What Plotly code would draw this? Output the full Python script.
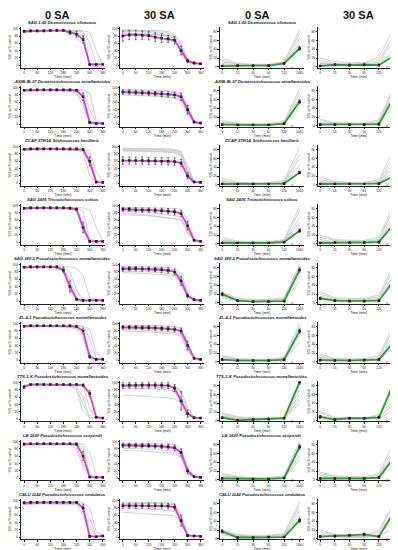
import plotly.graph_objects as go

# ---------------- data ----------------
T_DES = [0, 30, 60, 90, 120, 150, 180, 210, 240, 270, 300, 330, 360]
DES_TICKS = [0, 60, 120, 180, 240, 300, 360]
REC_X = [0, 1, 2, 3, 4, 5]
REC_LABELS = ["0", "15", "30", "60", "120", "1440"]
COL_HEADERS = ["0 SA", "30 SA", "0 SA", "30 SA"]
STRAINS = [
    "SAG 1.82 Desmococcus olivaceus",
    "ASIB-IB-37 Deuterostichococcus tetrallantoides",
    "CCAP 379/1A Stichococcus bacillaris",
    "SAG 2406 Tritostichococcus solitus",
    "SAG 380-1 Pseudostichococcus monallantoides",
    "ZL-4-1 Pseudostichococcus monallantoides",
    "TTS-1-K Pseudostichococcus monallantoides",
    "LB 1820 Pseudostichococcus seepordii",
    "CALU 1142 Pseudostichococcus undulatus",
]

DES0_MEAN = [
    [93, 94, 94, 94, 95, 95, 95, 90, 85, 70, 2, 2, 2],
    [93, 94, 94, 94, 94, 94, 94, 94, 93, 75, 5, 2, 2],
    [93, 94, 94, 94, 94, 94, 94, 94, 94, 92, 60, 3, 2],
    [93, 94, 94, 94, 94, 94, 94, 93, 90, 40, 2, 2, 2],
    [93, 94, 94, 94, 94, 94, 85, 40, 5, 2, 2, 2, 2],
    [93, 94, 94, 94, 94, 94, 94, 94, 92, 80, 10, 2, 2],
    [88, 95, 95, 95, 95, 95, 95, 95, 95, 93, 70, 5, 3],
    [93, 94, 94, 94, 94, 94, 94, 94, 93, 60, 3, 2, 2],
    [94, 95, 95, 95, 95, 95, 95, 95, 95, 80, 2, 1, 3],
]
DES0_ERR = [
    [3, 2, 2, 2, 2, 2, 2, 6, 8, 10, 1, 1, 1],
    [2, 2, 2, 2, 2, 2, 2, 2, 3, 10, 2, 1, 1],
    [2, 2, 2, 2, 2, 2, 2, 2, 2, 3, 12, 2, 1],
    [2, 2, 2, 2, 2, 2, 2, 3, 4, 15, 1, 1, 1],
    [2, 2, 2, 2, 2, 3, 8, 15, 3, 1, 1, 1, 1],
    [2, 2, 2, 2, 2, 2, 2, 2, 3, 8, 5, 1, 1],
    [4, 2, 2, 2, 2, 2, 2, 2, 2, 3, 8, 2, 1],
    [2, 2, 2, 2, 2, 2, 2, 2, 3, 12, 2, 1, 1],
    [3, 2, 2, 2, 2, 2, 2, 2, 2, 10, 1, 1, 2],
]
DES0_GRAY = [
    [[92, 94, 95, 95, 96, 96, 96, 95, 94, 92, 60, 3, 2], [88, 92, 93, 94, 94, 95, 95, 93, 90, 80, 5, 2, 2],
     [95, 96, 96, 96, 96, 96, 95, 95, 96, 95, 90, 40, 3], [90, 93, 94, 94, 95, 95, 94, 88, 75, 60, 3, 2, 2]],
    [[94, 95, 95, 95, 95, 95, 95, 95, 94, 90, 40, 3, 2], [92, 93, 93, 94, 94, 94, 94, 93, 90, 60, 3, 2, 2],
     [95, 95, 96, 96, 96, 96, 95, 95, 95, 94, 85, 10, 3], [90, 92, 92, 93, 93, 93, 92, 90, 85, 50, 2, 2, 2]],
    [[95, 95, 96, 96, 96, 96, 96, 95, 95, 94, 80, 5, 2], [92, 93, 93, 94, 94, 94, 94, 93, 93, 90, 45, 3, 2],
     [94, 95, 95, 95, 95, 95, 95, 95, 94, 93, 90, 30, 3], [90, 91, 92, 92, 92, 92, 92, 91, 90, 85, 20, 2, 2]],
    [[95, 95, 95, 95, 95, 95, 95, 95, 94, 85, 10, 2, 2], [92, 93, 93, 94, 94, 94, 94, 92, 88, 30, 2, 2, 2],
     [94, 95, 95, 95, 95, 95, 95, 95, 95, 94, 88, 40, 3], [90, 92, 92, 92, 92, 92, 91, 90, 85, 55, 3, 2, 2]],
    [[95, 95, 95, 95, 95, 95, 92, 80, 30, 3, 2, 2, 2], [92, 93, 93, 93, 93, 92, 88, 60, 10, 2, 2, 2, 2],
     [94, 95, 95, 95, 95, 95, 95, 94, 90, 70, 10, 3, 2], [90, 91, 92, 92, 92, 91, 80, 30, 3, 2, 2, 2, 2]],
    [[95, 95, 95, 95, 95, 95, 95, 95, 95, 92, 60, 5, 2], [92, 93, 93, 94, 94, 94, 94, 93, 90, 70, 5, 2, 2],
     [94, 95, 95, 95, 95, 95, 95, 95, 94, 93, 85, 20, 3], [90, 91, 92, 92, 92, 92, 91, 90, 85, 60, 3, 2, 2]],
    [[92, 94, 95, 95, 95, 95, 95, 94, 90, 60, 5, 3, 3], [90, 93, 94, 94, 94, 94, 93, 92, 85, 40, 4, 3, 3],
     [94, 95, 95, 95, 95, 95, 95, 95, 94, 92, 30, 4, 3], [88, 92, 93, 93, 93, 93, 92, 90, 80, 20, 3, 3, 3]],
    [[95, 95, 95, 95, 95, 95, 95, 95, 94, 85, 10, 2, 2], [92, 93, 93, 93, 93, 93, 93, 92, 88, 40, 3, 2, 2],
     [94, 95, 95, 95, 95, 95, 95, 95, 95, 94, 70, 8, 2], [90, 91, 92, 92, 92, 92, 91, 90, 80, 30, 2, 2, 2]],
    [[92, 94, 94, 94, 94, 94, 94, 94, 92, 60, 5, 2, 2], [88, 90, 91, 91, 91, 91, 91, 90, 88, 75, 30, 3, 2],
     [94, 95, 95, 95, 95, 95, 95, 95, 95, 94, 80, 15, 3], [90, 92, 92, 92, 92, 92, 92, 91, 90, 85, 50, 4, 2]],
]

DES30_MEAN = [
    [80, 83, 83, 82, 81, 77, 74, 72, 68, 40, 12, 6, 4],
    [88, 88, 87, 86, 85, 84, 83, 82, 80, 75, 40, 6, 3],
    [62, 62, 62, 62, 61, 61, 60, 60, 59, 55, 20, 3, 2],
    [90, 90, 89, 88, 88, 87, 86, 85, 83, 78, 45, 5, 2],
    [88, 89, 89, 88, 88, 87, 86, 84, 80, 55, 15, 4, 2],
    [90, 90, 90, 89, 89, 88, 87, 86, 84, 80, 40, 5, 2],
    [92, 93, 93, 93, 93, 93, 93, 92, 85, 50, 15, 4, 3],
    [90, 90, 90, 89, 89, 88, 87, 86, 83, 70, 20, 4, 2],
    [86, 86, 86, 86, 86, 86, 86, 85, 82, 45, 4, 3, 2],
]
DES30_ERR = [
    [14, 13, 13, 12, 12, 12, 12, 10, 10, 12, 5, 3, 2],
    [6, 6, 6, 6, 6, 6, 7, 7, 8, 10, 12, 3, 2],
    [10, 10, 10, 10, 10, 10, 10, 10, 10, 10, 8, 2, 1],
    [5, 5, 6, 6, 6, 6, 7, 7, 8, 8, 12, 3, 1],
    [6, 6, 6, 6, 6, 6, 7, 7, 8, 12, 6, 2, 1],
    [5, 5, 5, 5, 6, 6, 6, 6, 7, 8, 12, 3, 1],
    [8, 8, 8, 8, 8, 8, 8, 8, 10, 25, 10, 2, 1],
    [6, 6, 6, 6, 6, 6, 6, 7, 8, 10, 8, 2, 1],
    [7, 7, 7, 7, 7, 7, 7, 7, 8, 15, 3, 2, 1],
]
DES30_GRAY = [
    [[95, 95, 95, 94, 93, 92, 90, 88, 80, 50, 10, 5, 3], [92, 93, 93, 92, 90, 88, 85, 82, 75, 35, 8, 4, 3],
     [88, 88, 87, 86, 85, 84, 83, 82, 78, 55, 15, 6, 4], [97, 97, 96, 96, 95, 95, 94, 92, 85, 60, 12, 5, 3],
     [85, 86, 86, 85, 85, 84, 82, 80, 72, 30, 8, 4, 3]],
    [[95, 95, 95, 94, 94, 93, 93, 92, 90, 85, 45, 5, 3], [90, 90, 89, 88, 88, 87, 86, 85, 83, 75, 30, 4, 2],
     [85, 85, 84, 83, 82, 80, 78, 76, 72, 65, 25, 4, 2], [92, 92, 92, 91, 91, 90, 90, 88, 86, 80, 55, 8, 3],
     [80, 80, 79, 78, 77, 76, 75, 74, 72, 68, 35, 5, 3]],
    [[96, 96, 96, 96, 95, 95, 95, 94, 93, 88, 40, 5, 2], [94, 94, 93, 93, 93, 92, 92, 91, 90, 85, 30, 4, 2],
     [92, 92, 92, 91, 91, 90, 90, 89, 88, 82, 50, 6, 3], [90, 90, 89, 89, 88, 88, 87, 86, 85, 78, 25, 4, 2],
     [88, 88, 88, 87, 87, 86, 86, 85, 83, 75, 35, 5, 2]],
    [[95, 95, 95, 94, 94, 94, 93, 93, 92, 90, 60, 8, 3], [92, 92, 91, 91, 90, 90, 89, 88, 86, 80, 40, 5, 2],
     [85, 85, 84, 83, 82, 80, 78, 76, 74, 70, 30, 4, 2], [80, 80, 78, 76, 74, 72, 70, 68, 66, 62, 35, 5, 3],
     [75, 75, 74, 73, 72, 70, 68, 66, 64, 58, 25, 4, 2]],
    [[95, 95, 95, 95, 94, 94, 93, 92, 90, 75, 30, 5, 2], [92, 92, 92, 91, 91, 90, 89, 88, 85, 65, 20, 4, 2],
     [88, 88, 87, 87, 86, 85, 84, 83, 80, 60, 15, 3, 2], [82, 82, 81, 80, 80, 79, 78, 76, 74, 50, 12, 3, 2],
     [78, 78, 77, 76, 75, 74, 73, 72, 70, 45, 10, 3, 2]],
    [[96, 96, 95, 95, 95, 94, 94, 93, 92, 88, 50, 6, 3], [93, 93, 92, 92, 91, 91, 90, 89, 87, 82, 45, 5, 2],
     [88, 88, 88, 87, 86, 85, 84, 83, 81, 76, 30, 4, 2], [84, 84, 83, 82, 81, 80, 79, 78, 76, 70, 35, 5, 2],
     [80, 80, 79, 78, 77, 76, 75, 74, 72, 65, 25, 4, 2]],
    [[66, 65, 64, 63, 62, 61, 60, 58, 55, 45, 20, 5, 3], [95, 95, 95, 95, 95, 94, 94, 93, 90, 75, 20, 4, 3],
     [90, 90, 90, 89, 89, 88, 87, 85, 82, 60, 10, 3, 3], [85, 85, 85, 84, 84, 83, 82, 80, 75, 40, 8, 3, 3],
     [93, 93, 93, 93, 92, 92, 92, 91, 88, 80, 30, 5, 3]],
    [[95, 95, 95, 95, 94, 94, 93, 93, 91, 80, 30, 5, 2], [92, 92, 91, 91, 90, 90, 89, 88, 86, 72, 25, 4, 2],
     [88, 88, 87, 86, 86, 85, 84, 83, 80, 65, 20, 4, 2], [82, 82, 81, 80, 79, 78, 77, 76, 74, 60, 15, 3, 2],
     [76, 76, 75, 74, 73, 72, 71, 70, 68, 55, 12, 3, 2]],
    [[96, 96, 96, 95, 95, 95, 95, 94, 92, 60, 8, 4, 3], [93, 93, 93, 92, 92, 91, 91, 90, 88, 55, 6, 3, 2],
     [68, 67, 66, 65, 64, 63, 62, 60, 58, 40, 5, 3, 2], [80, 80, 79, 78, 77, 76, 75, 73, 70, 45, 5, 3, 2],
     [90, 90, 89, 88, 87, 86, 85, 84, 80, 50, 6, 3, 2]],
]

REC0_MEAN = [
    [2, 3, 3, 3, 8, 42], [3, 2, 2, 2, 5, 55], [2, 2, 2, 2, 3, 28],
    [2, 2, 2, 2, 4, 30], [20, 5, 3, 3, 4, 75], [5, 3, 3, 3, 5, 70],
    [7, 1, 3, 4, 6, 88], [3, 2, 2, 2, 4, 75], [17, 3, 3, 4, 4, 42],
]
REC0_ERR = [
    [1, 1, 1, 1, 2, 4], [1, 1, 1, 1, 2, 4], [1, 1, 1, 1, 1, 3],
    [1, 1, 1, 1, 1, 4], [4, 2, 1, 1, 1, 5], [2, 1, 1, 1, 1, 5],
    [2, 1, 1, 1, 2, 5], [1, 1, 1, 1, 1, 5], [4, 1, 1, 1, 1, 5],
]
REC0_GRAY = [
    [[20, 8, 6, 6, 12, 85], [15, 5, 4, 5, 10, 75], [12, 6, 5, 5, 8, 65], [8, 4, 3, 4, 6, 55], [5, 3, 3, 3, 6, 50]],
    [[12, 6, 5, 5, 10, 85], [10, 5, 4, 4, 8, 75], [8, 4, 3, 3, 6, 65], [6, 3, 3, 3, 5, 60], [5, 3, 3, 3, 4, 45]],
    [[15, 6, 5, 5, 10, 85], [10, 4, 4, 4, 7, 70], [8, 4, 3, 3, 5, 60], [6, 3, 3, 3, 5, 45], [4, 2, 2, 2, 3, 35]],
    [[15, 6, 5, 5, 10, 85], [10, 5, 4, 4, 8, 75], [8, 4, 3, 3, 6, 60], [6, 3, 3, 3, 5, 50], [4, 3, 2, 2, 4, 40]],
    [[25, 10, 8, 8, 12, 88], [22, 8, 6, 6, 10, 82], [18, 6, 5, 5, 8, 70], [15, 5, 4, 4, 6, 60], [12, 4, 3, 3, 5, 50]],
    [[15, 7, 6, 6, 10, 88], [12, 6, 5, 5, 8, 80], [10, 5, 4, 4, 6, 70], [7, 4, 3, 3, 5, 60], [5, 3, 3, 3, 4, 45]],
    [[18, 10, 6, 6, 8, 80], [15, 8, 5, 5, 7, 70], [12, 6, 4, 4, 6, 60], [10, 5, 4, 4, 5, 50], [8, 4, 3, 3, 5, 40]],
    [[15, 7, 5, 5, 9, 88], [12, 6, 4, 4, 7, 80], [9, 5, 3, 3, 5, 70], [6, 4, 3, 3, 4, 55], [4, 3, 2, 2, 3, 45]],
    [[20, 10, 8, 8, 12, 85], [18, 8, 6, 6, 10, 75], [15, 6, 5, 5, 8, 65], [12, 5, 4, 4, 6, 55], [9, 4, 3, 3, 5, 45]],
]

REC30_MEAN = [
    [2, 5, 4, 5, 4, 25], [3, 3, 3, 3, 4, 65], [2, 2, 2, 2, 3, 20],
    [2, 3, 3, 3, 4, 45], [10, 5, 4, 4, 5, 50], [4, 3, 3, 4, 5, 45],
    [9, 3, 6, 6, 8, 85], [3, 3, 3, 3, 5, 50], [5, 6, 8, 10, 5, 60],
]
REC30_ERR = [
    [1, 2, 2, 2, 1, 4], [1, 1, 1, 1, 2, 5], [1, 1, 1, 1, 1, 3],
    [1, 1, 1, 1, 2, 4], [3, 2, 1, 1, 2, 5], [1, 1, 1, 1, 2, 4],
    [3, 2, 2, 2, 3, 5], [1, 1, 1, 1, 2, 5], [2, 2, 2, 3, 2, 8],
]
REC30_GRAY = [
    [[20, 12, 10, 10, 22, 88], [15, 8, 7, 8, 15, 70], [10, 6, 5, 6, 10, 60], [8, 5, 4, 5, 8, 35], [6, 4, 4, 4, 6, 30]],
    [[15, 8, 6, 6, 14, 90], [12, 6, 5, 5, 10, 85], [8, 5, 4, 4, 7, 75], [6, 4, 3, 3, 5, 55], [4, 3, 3, 3, 4, 45]],
    [[18, 8, 6, 6, 12, 80], [12, 6, 5, 5, 8, 65], [8, 4, 4, 4, 6, 50], [6, 3, 3, 3, 5, 40], [4, 3, 3, 3, 4, 30]],
    [[20, 10, 8, 8, 15, 90], [15, 8, 6, 6, 10, 80], [10, 5, 5, 5, 8, 65], [6, 4, 4, 4, 6, 55], [4, 3, 3, 3, 5, 35]],
    [[25, 12, 10, 10, 18, 85], [20, 10, 8, 8, 14, 75], [15, 8, 6, 6, 10, 65], [12, 6, 5, 5, 8, 55], [8, 4, 4, 4, 6, 40]],
    [[18, 8, 7, 7, 14, 85], [14, 6, 5, 5, 10, 75], [10, 5, 4, 4, 7, 60], [7, 4, 4, 4, 6, 50], [5, 3, 3, 3, 5, 35]],
    [[22, 8, 6, 6, 15, 75], [18, 6, 5, 5, 12, 60], [12, 5, 4, 4, 8, 50], [9, 4, 4, 4, 6, 40], [7, 3, 3, 3, 5, 25]],
    [[18, 9, 7, 7, 14, 85], [14, 7, 5, 5, 10, 70], [10, 5, 4, 4, 7, 60], [7, 4, 3, 3, 5, 45], [5, 3, 3, 3, 4, 35]],
    [[20, 10, 8, 8, 20, 80], [15, 8, 6, 6, 15, 75], [10, 6, 5, 5, 10, 65], [8, 5, 4, 4, 7, 45], [6, 4, 3, 3, 5, 25]],
]

# ---------------- styling / layout ----------------
W, H = 398, 550
MAGENTA = "#d63fd6"
GREEN = "#2f9a3a"
GRAY = "#c4c4c4"
FONT = "Liberation Sans, Arial, sans-serif"
COL_PX = [(13, 97), (112.7, 196.7), (212.3, 297), (310.7, 392.5)]
COL_XRANGE = [[-14, 369], [-11, 377], [-0.15, 5.3], [-0.15, 5.4]]
HEADER_X = [50, 152, 250, 351]
ROW_TOP0, ROW_STEP, ROW_H = 18.5, 59.2, 40.3
YLABEL = "Y(II) as % control"

PANELS = [
    (DES0_MEAN, DES0_ERR, DES0_GRAY, MAGENTA, "des"),
    (DES30_MEAN, DES30_ERR, DES30_GRAY, MAGENTA, "des"),
    (REC0_MEAN, REC0_ERR, REC0_GRAY, GREEN, "rec"),
    (REC30_MEAN, REC30_ERR, REC30_GRAY, GREEN, "rec"),
]

fig = go.Figure()
layout = {}
annotations = []
tickfont = dict(size=3.2, family=FONT, color="#222")

k = 0
for r in range(9):
    top = ROW_TOP0 + ROW_STEP * r
    bot = top + ROW_H
    for c in range(4):
        k += 1
        mean, err, gray, color, kind = PANELS[c]
        xname = "x" if k == 1 else f"x{k}"
        yname = "y" if k == 1 else f"y{k}"
        xkey = "xaxis" if k == 1 else f"xaxis{k}"
        ykey = "yaxis" if k == 1 else f"yaxis{k}"
        xs = T_DES if kind == "des" else REC_X
        for g in gray[r]:
            fig.add_trace(go.Scatter(x=xs, y=g, mode="lines", xaxis=xname, yaxis=yname,
                                     line=dict(color=GRAY, width=0.8), showlegend=False,
                                     hoverinfo="skip"))
        fig.add_trace(go.Scatter(
            x=xs, y=mean[r], mode="lines+markers", xaxis=xname, yaxis=yname,
            line=dict(color=color, width=1.8),
            marker=dict(color="#222", size=2.6, symbol="square"),
            error_y=dict(type="data", array=err[r], thickness=0.6, width=1, color="#222"),
            showlegend=False))
        x0, x1 = COL_PX[c]
        common = dict(showline=True, linecolor="#222", linewidth=0.7, showgrid=False,
                      zeroline=False, ticks="outside", ticklen=1.5, tickwidth=0.5,
                      tickcolor="#222", tickfont=tickfont)
        xa = dict(domain=[x0 / W, x1 / W], anchor=yname, range=COL_XRANGE[c],
                  title=dict(text="Time (min)", font=dict(size=3.6, family=FONT, color="#222"),
                             standoff=0.5), **common)
        if kind == "des":
            xa.update(tickvals=DES_TICKS)
            ya = dict(range=[-6.6, 103.5], tickvals=[0, 20, 40, 60, 80, 100])
        else:
            xa.update(tickvals=REC_X, ticktext=REC_LABELS)
            ya = dict(range=[-1.5, 90], tickvals=[0, 20, 40, 60, 80])
        ya.update(domain=[1 - bot / H, 1 - top / H], anchor=xname,
                  title=dict(text=YLABEL, font=dict(size=3.2, family=FONT, color="#222"),
                             standoff=1), **common)
        layout[xkey] = xa
        layout[ykey] = ya
        if kind == "rec":
            annotations.append(dict(text="//", x=4.55, y=1 - bot / H, xref=xname, yref="paper",
                                    showarrow=False, font=dict(size=4, family=FONT, color="#222"),
                                    yanchor="middle"))
        if c in (0, 2):
            annotations.append(dict(text=f"<b><i>{STRAINS[r]}</i></b>", x=(x0 + x1) / 2 / W,
                                    y=1 - (top - 4.5) / H, xref="paper", yref="paper",
                                    showarrow=False, xanchor="center", yanchor="middle",
                                    font=dict(size=4.2, family=FONT, color="#222")))

for c in range(4):
    annotations.append(dict(text=f"<b>{COL_HEADERS[c]}</b>", x=HEADER_X[c] / W, y=1 - 6.3 / H,
                            xref="paper", yref="paper", showarrow=False,
                            xanchor="center", yanchor="middle",
                            font=dict(size=11, family=FONT, color="#111")))

fig.update_layout(**layout)
fig.update_layout(width=W, height=H, margin=dict(l=0, r=0, t=0, b=0),
                  paper_bgcolor="white", plot_bgcolor="white",
                  annotations=annotations, showlegend=False)

fig.write_html("out.html")
